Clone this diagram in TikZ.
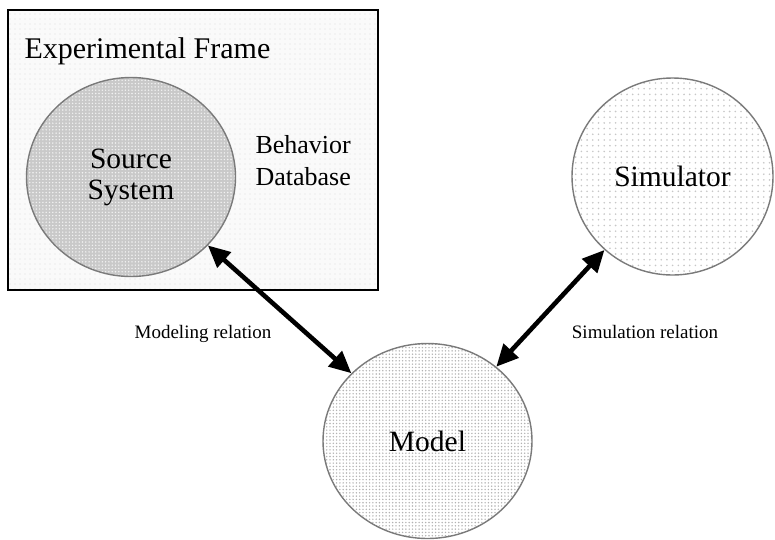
\documentclass[tikz,border=0pt]{standalone}
\usepackage{fontspec}
\setmainfont{Liberation Serif}
\usetikzlibrary{shapes.geometric,arrows.meta,patterns.meta}
\definecolor{rim}{HTML}{7A7A7A}
\begin{document}
\begin{tikzpicture}[x=1pt,y=-1pt,
  blob/.style={ellipse,draw=rim,line width=1.4pt,inner sep=0pt,align=center},
  bigtext/.style={font=\fontsize{29.5}{32}\selectfont},
  reltext/.style={font=\fontsize{19}{22}\selectfont,anchor=base},
  relarrow/.style={line width=4.6pt,
    {Triangle[length=22pt,width=20pt]}-{Triangle[length=22pt,width=20pt]}}
]
\useasboundingbox (0,0) rectangle (775,539);

% experimental frame
\draw[line width=1.8pt,preaction={fill=black!2},
  pattern={Dots[distance=5pt,radius=0.7pt]},pattern color=black!12]
  (8,10) rectangle (378,290);
\node[anchor=base west,font=\fontsize{30}{34}\selectfont] (ef) at (21,58) {Experimental Frame};

% source system
\node[blob,bigtext,minimum width=209pt,minimum height=199pt,
  preaction={fill=black!21},
  pattern={Dots[distance=3.3pt,radius=0.8pt]},pattern color=white!95!black]
  (src) at (131,177) {Source\\[-1pt]System};

\node[anchor=base west,align=left,font=\fontsize{26}{32}\selectfont] (bdb) at (252,185)
  {Behavior\\Database};

% simulator
\node[blob,bigtext,minimum width=201pt,minimum height=197pt,
  preaction={fill=white},
  pattern={Dots[distance=5.7pt,radius=0.9pt]},pattern color=black!22]
  (sim) at (672.5,176.5) {Simulator};

% model
\node[blob,bigtext,minimum width=209pt,minimum height=195pt,
  preaction={fill=white},
  pattern={Dots[distance=3.3pt,radius=0.8pt]},pattern color=black!30]
  (mdl) at (427.5,441) {Model};

% relations
\draw[relarrow] (src) -- (mdl);
\draw[relarrow] (sim) -- (mdl);

\node[reltext] (modrel) at (203,338) {Modeling relation};
\node[reltext] (simrel) at (645,338) {Simulation relation};
\end{tikzpicture}
\end{document}
